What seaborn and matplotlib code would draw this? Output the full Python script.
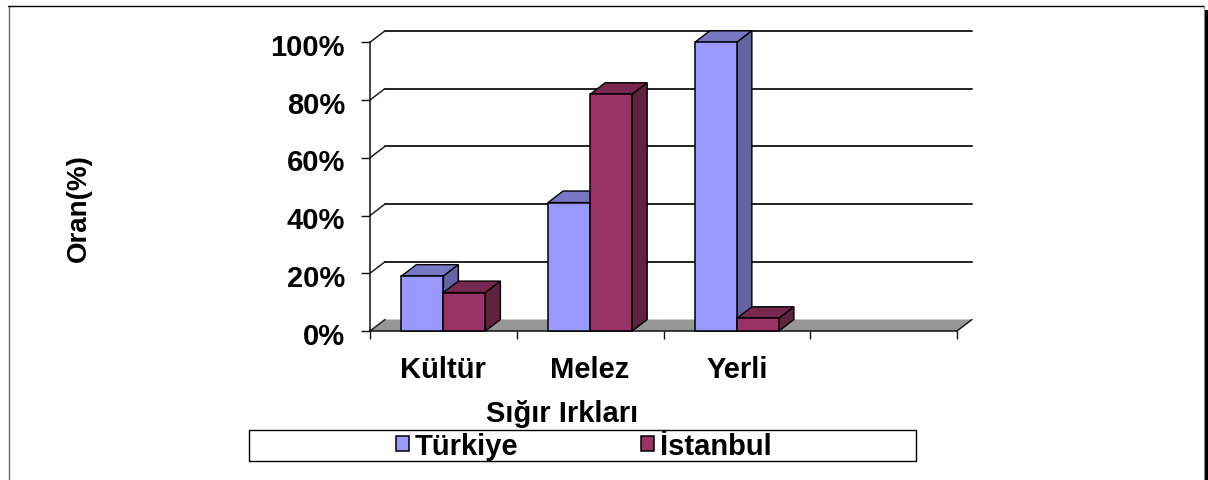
import numpy as np
import pandas as pd
import seaborn as sns
import matplotlib.pyplot as plt
from matplotlib.patches import Polygon, Rectangle
from matplotlib.transforms import ScaledTranslation

categories = ["Kültür", "Melez", "Yerli", " "]
turkiye = [19, 44.5, 100]
istanbul = [13.3, 82, 4.4]
y_ticks = [0, 20, 40, 60, 80, 100]

W, H = 1208, 481
FONT = 21
DX = 15 / 146.75    # derinlik, kategori birimi
DY = 11.5 / 2.887   # derinlik, % birimi

sns.set_style("white")
plt.rcParams["font.family"] = ["Liberation Sans", "DejaVu Sans"]
plt.rcParams["font.weight"] = "bold"
plt.rcParams["text.color"] = "black"
plt.rcParams["axes.labelcolor"] = "black"
plt.rcParams["xtick.color"] = "black"
plt.rcParams["ytick.color"] = "black"

groups = ["Türkiye", "İstanbul"]
df = pd.DataFrame({
    "irk": categories[:3] * 2,
    "grup": [groups[0]] * 3 + [groups[1]] * 3,
    "oran": turkiye + istanbul,
})

fig = plt.figure(figsize=(W / 100, H / 100), dpi=100, facecolor="white")
ax = fig.add_axes([370 / W, (H - 332) / H, 587 / W, 288.7 / H])
ax.patch.set_alpha(0)

colors = {"Türkiye": "#9999FF", "İstanbul": "#993366"}
tops = {"Türkiye": "#7777C4", "İstanbul": "#77284F"}
sides = {"Türkiye": "#6464A4", "İstanbul": "#5F2340"}

sns.barplot(data=df, x="irk", y="oran", hue="grup", order=categories,
            hue_order=groups, palette=colors, width=0.573,
            gap=0, edgecolor="black", linewidth=1.1, saturation=1, ax=ax, zorder=5)

ax.set_xlim(-0.5, 3.5)
ax.set_ylim(0, 100)

# zemin ve duvar
ax.add_patch(Polygon([(-0.5, 0), (3.5, 0), (3.5 + DX, DY), (-0.5 + DX, DY)],
                     closed=True, facecolor="#969696", edgecolor="none",
                     clip_on=False, zorder=1))
ax.plot([3.5, 3.5 + DX], [0, DY], color="#111111", lw=1, clip_on=False, zorder=2)
for t in y_ticks:
    if t > 0:
        ax.plot([-0.5 + DX, 3.5 + DX], [t + DY, t + DY], color="#222222", lw=1.4,
                clip_on=False, zorder=2)
    ax.plot([-0.5, -0.5 + DX], [t, t + DY], color="#222222", lw=1.1,
            clip_on=False, zorder=2)

# 3B yüzler: her çubuğun önünden türetilir
for i, (name, cont) in enumerate(zip(groups, ax.containers)):
    for bar in cont:
        if np.isnan(bar.get_height()):
            continue
        x0, x1, h = bar.get_x(), bar.get_x() + bar.get_width(), bar.get_height()
        z = 4 + 2 * i
        bar.set_zorder(z + 1)
        bar.set_clip_on(False)
        ax.add_patch(Polygon([(x0, h), (x1, h), (x1 + DX, h + DY), (x0 + DX, h + DY)],
                             closed=True, facecolor=tops[name], edgecolor="black",
                             lw=1, clip_on=False, zorder=z))
        ax.add_patch(Polygon([(x1, 0), (x1 + DX, DY), (x1 + DX, h + DY), (x1, h)],
                             closed=True, facecolor=sides[name], edgecolor="black",
                             lw=1, clip_on=False, zorder=z))

sns.despine(ax=ax, top=True, right=True, left=False, bottom=False)
for s in ["left", "bottom"]:
    ax.spines[s].set_color("#111111")
    ax.spines[s].set_linewidth(1.1)
    ax.spines[s].set_zorder(3)

ax.set_yticks(y_ticks)
ax.set_yticklabels([f"{t}%" for t in y_ticks], fontsize=FONT, fontweight="bold")
ax.tick_params(axis="y", left=True, length=6.5, width=1, color="#111111", pad=11.5)
offset = ScaledTranslation(0, -1.2 / 72, fig.dpi_scale_trans)
for lab in ax.get_yticklabels():
    lab.set_transform(lab.get_transform() + offset)
ax.set_xticks(range(4))
ax.set_xticklabels(categories, fontsize=FONT, fontweight="bold")
ax.set_xticks(np.arange(-0.5, 4, 1), minor=True)
ax.tick_params(axis="x", which="major", length=0, pad=17)
ax.tick_params(axis="x", which="minor", bottom=True, length=6, width=1, color="#111111")

ax.set_xlabel("Sığır Irkları", fontsize=FONT, fontweight="bold")
ax.xaxis.set_label_coords((562 - 370) / 587, (332 - 400.5) / 288.7)
ax.set_ylabel("Oran(%)", fontsize=FONT - 1, fontweight="bold")
ax.yaxis.set_label_coords((79 - 370) / 587, (332 - 208) / 288.7)
ax.yaxis.label.set_verticalalignment("center")

# legend kutusu ve dış çerçeve
fig.add_artist(Rectangle((249 / W, (H - 462) / H), 667 / W, 31 / H, transform=fig.transFigure,
                         facecolor="white", edgecolor="black", lw=1))
fig.add_artist(plt.Line2D([8.5 / W, 8.5 / W], [0, (H - 6.5) / H], color="#666666", lw=1))
fig.add_artist(plt.Line2D([8 / W, 1204 / W], [(H - 6.5) / H] * 2, color="black", lw=1))
fig.add_artist(plt.Line2D([1204 / W, 1204 / W], [0, (H - 6.5) / H], color="#888888", lw=0.8))
fig.add_artist(Rectangle((1205 / W, 0), 3 / W, (H - 11) / H, transform=fig.transFigure,
                         facecolor="black", edgecolor="none"))

handles, labels = ax.get_legend_handles_labels()
ax.legend_.remove()
leg = fig.legend(handles, labels, ncol=2, loc="center left",
                 bbox_to_anchor=(396 / W, (H - 447) / H), frameon=False, borderpad=0,
                 borderaxespad=0, fontsize=FONT, handlelength=0.45, handleheight=0.45,
                 handletextpad=0.2, columnspacing=4.2)

fig.savefig("out.png", dpi=100)
